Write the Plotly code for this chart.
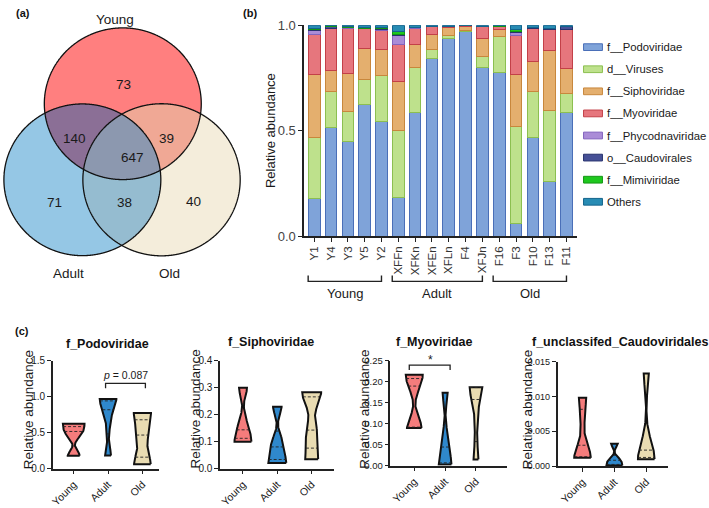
import numpy as np
import plotly.graph_objects as go

W, H = 709, 508
FONT = "Arial, Liberation Sans, sans-serif"

# ---------------- data ----------------
venn_sets = ["Young", "Adult", "Old"]
venn_counts = {"Y": 73, "A": 71, "O": 40, "YA": 140, "YO": 39, "AO": 38, "YAO": 647}

samples = ["Y1", "Y4", "Y3", "Y5", "Y2", "XFFn", "XFKn", "XFEn", "XFLn", "F4", "XFJn",
           "F16", "F3", "F10", "F13", "F11"]
groups = ["Young", "Adult", "Old"]
group_members = {"Young": ["Y1", "Y4", "Y3", "Y5", "Y2"],
                 "Adult": ["XFFn", "XFKn", "XFEn", "XFLn", "F4", "XFJn"],
                 "Old": ["F16", "F3", "F10", "F13", "F11"]}

taxa = ["f__Podoviridae", "d__Viruses", "f__Siphoviridae", "f__Myoviridae",
        "f__Phycodnaviridae", "o__Caudovirales", "f__Mimiviridae", "Others"]

podoviridae = [0.178, 0.517, 0.451, 0.626, 0.544, 0.182, 0.584, 0.842, 0.935, 0.969, 0.798,
               0.775, 0.061, 0.467, 0.257, 0.585]
viruses = [0.289, 0.167, 0.140, 0.119, 0.217, 0.321, 0.217, 0.041, 0.015, 0.005, 0.053,
           0.170, 0.457, 0.217, 0.339, 0.091]
siphoviridae = [0.300, 0.100, 0.178, 0.144, 0.125, 0.230, 0.109, 0.073, 0.038, 0.021, 0.088,
                0.035, 0.249, 0.143, 0.284, 0.117]
myoviridae = [0.190, 0.199, 0.217, 0.094, 0.090, 0.174, 0.076, 0.036, 0.008, 0.003, 0.053,
              0.015, 0.186, 0.158, 0.100, 0.187]
phycodnaviridae = [0.020, 0.002, 0.002, 0.002, 0.003, 0.044, 0.002, 0.001, 0.000, 0.000, 0.001,
                   0.000, 0.013, 0.001, 0.001, 0.001]
caudovirales = [0.0012, 0.0098, 0.0030, 0.0015, 0.0065, 0.0032, 0.0009, 0.0010, 0.0001, 0.0003, 0.0008,
                0.0010, 0.0023, 0.0015, 0.0035, 0.0133]
mimiviridae = [0.007, 0.002, 0.001, 0.003, 0.002, 0.017, 0.001, 0.001, 0.000, 0.000, 0.001,
               0.001, 0.010, 0.002, 0.002, 0.001]
others = [0.0148, 0.0032, 0.0080, 0.0105, 0.0125, 0.0288, 0.0101, 0.0050, 0.0039, 0.0017, 0.0052,
          0.0030, 0.0217, 0.0105, 0.0135, 0.0047]
series = [podoviridae, viruses, siphoviridae, myoviridae, phycodnaviridae, caudovirales, mimiviridae, others]

violin_panels = ["f_Podoviridae", "f_Siphoviridae", "f_Myoviridae", "f_unclassifed_Caudoviridales"]
violin_series = [podoviridae, siphoviridae, myoviridae, caudovirales]
violin_ymax = [1.5, 0.4, 0.25, 0.015]
violin_dtick = [0.5, 0.1, 0.05, 0.005]
violin_fmt = [".1f", ".1f", ".2f", ".3f"]

# ---------------- style ----------------
bar_fill = ["#7fa3d9", "#bee18c", "#e4af6e", "#e6767d", "#aa8cd7", "#465096", "#1ec81e", "#288cb4"]
bar_line = ["#4a6fb8", "#8cbf50", "#c8873c", "#c34048", "#8264be", "#28326e", "#149614", "#14648c"]
group_fill = ["#f47c7c", "#2f88cc", "#e9dcb2"]

venn_fill = {"Y": "#ff7f7f", "A": "#95c7e5", "O": "#f4eddb",
             "YA": "#8b6f96", "YO": "#f0a895", "AO": "#95bcd0", "YAO": "#8c98af"}
circles = {"Y": (120.3, 100.5, 78.8), "A": (79.7, 179.5, 78.8), "O": (159.2, 179.5, 79.0)}


def dx(a, b):
    return [a / W, b / W]


def dy(top, bottom):
    return [1 - bottom / H, 1 - top / H]


def px(x):
    return x / W


def py(y):
    return 1 - y / H


fig = go.Figure()
shapes = []
ann = []


def text(x, y, s, size, xanchor="center", angle=0, color="#1a1a1a"):
    ann.append(dict(x=px(x), y=py(y), xref="paper", yref="paper", text=s, showarrow=False,
                    xanchor=xanchor, yanchor="middle", textangle=angle,
                    font=dict(size=size, color=color, family=FONT)))


# ---------------- (a) Venn ----------------
def region_path(keys):
    pts = []
    for k in keys:
        cx, cy, r = circles[k]
        th = np.linspace(0, 2 * np.pi, 1441)
        x = cx + r * np.cos(th)
        y = cy + r * np.sin(th)
        m = np.ones_like(x, dtype=bool)
        for o in keys:
            if o == k:
                continue
            ox, oy, orr = circles[o]
            m &= (x - ox) ** 2 + (y - oy) ** 2 <= orr ** 2 + 1e-6
        pts += list(zip(x[m], y[m]))
    pts = np.array(pts)
    c = pts.mean(axis=0)
    ang = np.arctan2(pts[:, 1] - c[1], pts[:, 0] - c[0])
    pts = pts[np.argsort(ang)]
    return "M " + " L ".join(f"{a:.2f},{b:.2f}" for a, b in pts) + " Z"


for keys in [["Y"], ["A"], ["O"], ["Y", "A"], ["Y", "O"], ["A", "O"], ["Y", "A", "O"]]:
    shapes.append(dict(type="path", xref="x", yref="y", path=region_path(keys),
                       fillcolor=venn_fill["".join(keys)], line=dict(width=0), layer="below"))
for k in ["Y", "A", "O"]:
    shapes.append(dict(type="path", xref="x", yref="y", path=region_path([k]),
                       fillcolor="rgba(0,0,0,0)", line=dict(color="#111111", width=1.3), layer="below"))

fig.add_trace(go.Scatter(x=[0], y=[0], mode="markers", marker=dict(opacity=0),
                         xaxis="x", yaxis="y", showlegend=False, hoverinfo="skip"))

venn_text_pos = {"Y": (120.7, 80), "YA": (71.7, 136.7), "YO": (164.3, 136.7), "YAO": (130, 156),
                 "A": (51.7, 203.3), "AO": (121.7, 203.3), "O": (191.7, 202)}
for k, (x, y) in venn_text_pos.items():
    text(x, y, str(venn_counts[k]), 13.5)
for name, (x, y) in zip(venn_sets, [(112.5, 13.5), (66, 277), (167.5, 277)]):
    text(x, y, name, 13.5)

# ---------------- (b) stacked bars ----------------
for name, vals, fc, lc in zip(taxa, series, bar_fill, bar_line):
    fig.add_trace(go.Bar(x=samples, y=vals, name=name, marker=dict(color=fc, line=dict(color=lc, width=1)),
                         width=0.69, xaxis="x2", yaxis="y2", showlegend=False))

bracket_top, bracket_bot = 279, 285
for g in groups:
    i0 = samples.index(group_members[g][0])
    i1 = samples.index(group_members[g][-1])
    xa, xb = i0 - 0.36, i1 + 0.0
    shapes.append(dict(type="path", xref="x2", yref="paper",
                       path=f"M {xa},{py(bracket_top)} L {xa},{py(bracket_bot)} L {xb},{py(bracket_bot)} L {xb},{py(bracket_top)}",
                       line=dict(color="#222222", width=1.4)))
    ann.append(dict(x=(xa + xb) / 2, y=py(298), xref="x2", yref="paper", text=g, showarrow=False,
                    xanchor="center", yanchor="middle", font=dict(size=13, color="#1a1a1a", family=FONT)))

for i, (name, fc, lc) in enumerate(zip(taxa, bar_fill, bar_line)):
    yc = 41.7 + i * 22.95
    shapes.append(dict(type="rect", xref="paper", yref="paper", x0=px(583), x1=px(602),
                       y0=py(yc - 3.5), y1=py(yc + 3.5), fillcolor=fc, line=dict(color=lc, width=1)))
    text(605, yc, name, 11.3, xanchor="left")

text(268, 128, "Relative abundance", 13, angle=-90)

# ---------------- (c) violins ----------------
vx = [(50, 157, 71, 34.5), (218, 332, 241, 34.5), (389, 506, 413, 31), (557, 668, 582, 32)]
vy = [(367.7, 479.5), (367.7, 479.5), (367.7, 476.5), (368.3, 477)]
v_width_px = [[21.7, 16.7, 17.3], [17, 18, 19], [17, 12.7, 12.7], [16.7, 16, 16.7]]
title_pos = [(105, 350), (269, 348), (433, 348), (620, 348)]
ytitle_x = [25, 193, 363, 527]
ytick_size = [10, 10, 9.5, 9]


def gp_quantile(v, p):
    s = np.sort(v)
    n = len(s)
    pos = p * (n + 1)
    lo = int(np.floor(pos))
    frac = pos - lo
    lo = min(max(lo, 1), n)
    hi = min(lo + 1, n)
    return s[lo - 1] + frac * (s[hi - 1] - s[lo - 1])


def kde(v, grid, h):
    # Gaussian KDE with reflection at the data limits (violin truncated at min / max)
    pts = np.concatenate([v, 2 * v.min() - v, 2 * v.max() - v])
    return np.exp(-0.5 * ((grid[:, None] - pts[None, :]) / h) ** 2).sum(axis=1)


for pi, (title, vals) in enumerate(zip(violin_panels, violin_series)):
    xa = f"x{pi + 3}"
    ya = f"y{pi + 3}"
    x0, xend, c0, sp = vx[pi]
    for gi, g in enumerate(groups):
        v = np.array([vals[samples.index(s)] for s in group_members[g]])
        h = 0.55 * v.std(ddof=1) * len(v) ** (-0.2)
        grid = np.linspace(v.min(), v.max(), 150)
        d = kde(v, grid, h)
        dmax = d.max()
        hw = v_width_px[pi][gi] / 2 / sp
        wid = d / dmax * hw
        xs = np.concatenate([gi + wid, (gi - wid)[::-1], [gi + wid[0]]])
        ys = np.concatenate([grid, grid[::-1], [grid[0]]])
        fig.add_trace(go.Scatter(x=xs, y=ys, mode="lines", fill="toself", fillcolor=group_fill[gi],
                                 line=dict(color="#111111", width=2), xaxis=xa, yaxis=ya,
                                 showlegend=False, hoverinfo="skip"))
        for p in (0.25, 0.5, 0.75):
            q = gp_quantile(v, p)
            wq = kde(v, np.array([q]), h)[0] / dmax * hw
            fig.add_trace(go.Scatter(x=[gi - wq, gi + wq], y=[q, q], mode="lines",
                                     line=dict(color="#222222", width=0.9, dash="3px,2px"),
                                     xaxis=xa, yaxis=ya, showlegend=False, hoverinfo="skip"))
    tx, ty = title_pos[pi]
    text(tx, ty, f"<b>{title}</b>", 12.5, color="#111111")
    text(ytitle_x[pi], 418, "Relative abundance", 13.5, angle=-90)


def bracket(xa_px, xb_px, ytop_px, ybot_px):
    shapes.append(dict(type="path", xref="paper", yref="paper",
                       path=f"M {px(xa_px)},{py(ybot_px)} L {px(xa_px)},{py(ytop_px)} L {px(xb_px)},{py(ytop_px)} L {px(xb_px)},{py(ybot_px)}",
                       line=dict(color="#222222", width=1.3)))


bracket(103, 143, 391, 396)
text(123, 382, "<i>p</i> = 0.087", 10.5)
bracket(408, 449, 372, 377)
text(429, 367, "*", 12)

for t, (x, y) in zip(["(a)", "(b)", "(c)"], [(20, 6), (248, 6), (19, 337)]):
    text(x, y, f"<b>{t}</b>", 11, color="#111111")

# ---------------- layout ----------------
axis_common = dict(showgrid=False, zeroline=False, showline=True, linecolor="#222222", linewidth=1.5,
                   ticks="outside", ticklen=4, tickwidth=1.3, tickcolor="#222222")
layout = dict(
    width=W, height=H, margin=dict(l=0, r=0, t=0, b=0), paper_bgcolor="white", plot_bgcolor="white",
    barmode="stack", showlegend=False, font=dict(family=FONT, color="#222222"),
    xaxis=dict(domain=dx(0, 240), range=[0, 240], visible=False, fixedrange=True),
    yaxis=dict(domain=dy(0, 300), range=[300, 0], visible=False, fixedrange=True),
    xaxis2=dict(domain=dx(302.4, 576), range=[-0.6, 15.6], anchor="y2", tickangle=-90,
                tickfont=dict(size=11.5, color="#333333"), **axis_common),
    yaxis2=dict(domain=dy(19, 238), range=[0, 1], anchor="x2", tickvals=[0, 0.5, 1.0],
                tickformat=".1f", tickfont=dict(size=13, color="#444444"), **axis_common),
)
for pi in range(4):
    x0, xend, c0, sp = vx[pi]
    top, bot = vy[pi]
    layout[f"xaxis{pi + 3}"] = dict(domain=dx(x0, xend), range=[(x0 - c0) / sp, (xend - c0) / sp],
                                    anchor=f"y{pi + 3}", tickvals=[0, 1, 2], ticktext=groups, tickangle=-45,
                                    tickfont=dict(size=10.5, color="#1a1a1a"), **axis_common)
    layout[f"yaxis{pi + 3}"] = dict(domain=dy(top, bot), range=[0, violin_ymax[pi]], anchor=f"x{pi + 3}",
                                    dtick=violin_dtick[pi], tickformat=violin_fmt[pi],
                                    tickfont=dict(size=ytick_size[pi], color="#1a1a1a"), **axis_common)

fig.update_layout(**layout, shapes=shapes, annotations=ann)
fig.write_html("out.html", config={"displayModeBar": False},
               post_script="document.body.style.margin='0';document.body.style.overflow='hidden';")
